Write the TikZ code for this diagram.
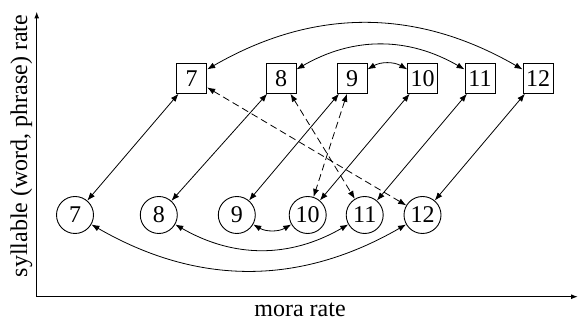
\documentclass[tikz,border=0pt]{standalone}
\usepackage{fontspec}
\setmainfont{Liberation Serif}
\usetikzlibrary{arrows.meta}
\begin{document}
\begin{tikzpicture}[x=1pt,y=1pt,
  every node/.style={font=\fontsize{24}{28}\selectfont},
  sq/.style={draw, line width=0.9pt, minimum size=30pt, inner sep=1pt},
  circ/.style={draw, circle, line width=0.9pt, minimum size=37pt, inner sep=0pt},
  link/.style={line width=0.8pt, {Latex[length=8pt,width=6pt]}-{Latex[length=8pt,width=6pt]}},
  dlink/.style={link, dash pattern=on 7pt off 4pt},
  axis/.style={line width=1.2pt, -{Latex[length=7pt,width=5pt]}},
  lab/.style={inner sep=0pt}]
\useasboundingbox (0,0) rectangle (579,321);

% axes
\coordinate (O) at (36.7,24.3);
\coordinate (Ytop) at (36.7,309.5);
\coordinate (Xend) at (578,24.3);
\draw[axis] (O) -- (Ytop);
\draw[axis] (O) -- (Xend);
\node[lab, anchor=base] (xlab) at (300,4) {mora rate};
\node[lab, rotate=90, anchor=base] (ylab) at (27,175) {syllable (word, phrase) rate};

% top row (boxes)
\node[sq] (b7)  at (191.7,242.7) {7};
\node[sq] (b8)  at (281,242.7) {8};
\node[sq] (b9)  at (352,242.7) {9};
\node[sq] (b10) at (422.7,242.7) {10};
\node[sq] (b11) at (480,242.7) {11};
\node[sq] (b12) at (538,242.7) {12};

% bottom row (circles)
\node[circ] (c7)  at (75,106) {7};
\node[circ] (c8)  at (158.8,106) {8};
\node[circ] (c9)  at (236.8,106) {9};
\node[circ] (c10) at (307.7,106) {10};
\node[circ] (c11) at (364.7,106) {11};
\node[circ] (c12) at (422.5,106) {12};

% vertical links
\foreach \n in {7,8,9,10,11,12} \draw[link] (c\n) -- (b\n);

% dashed links
\draw[dlink] (b7) -- (c12);
\draw[dlink] (b8) -- (c11);
\draw[dlink] (b9) -- (c10);

% arcs
\draw[link] (b7) to[bend left=30] (b12);
\draw[link] (b8) to[bend left=30] (b11);
\draw[link] (b9) to[bend left=30] (b10);
\draw[link] (c7) to[bend right=30] (c12);
\draw[link] (c8) to[bend right=30] (c11);
\draw[link] (c9) to[bend right=30] (c10);
\end{tikzpicture}
\end{document}
